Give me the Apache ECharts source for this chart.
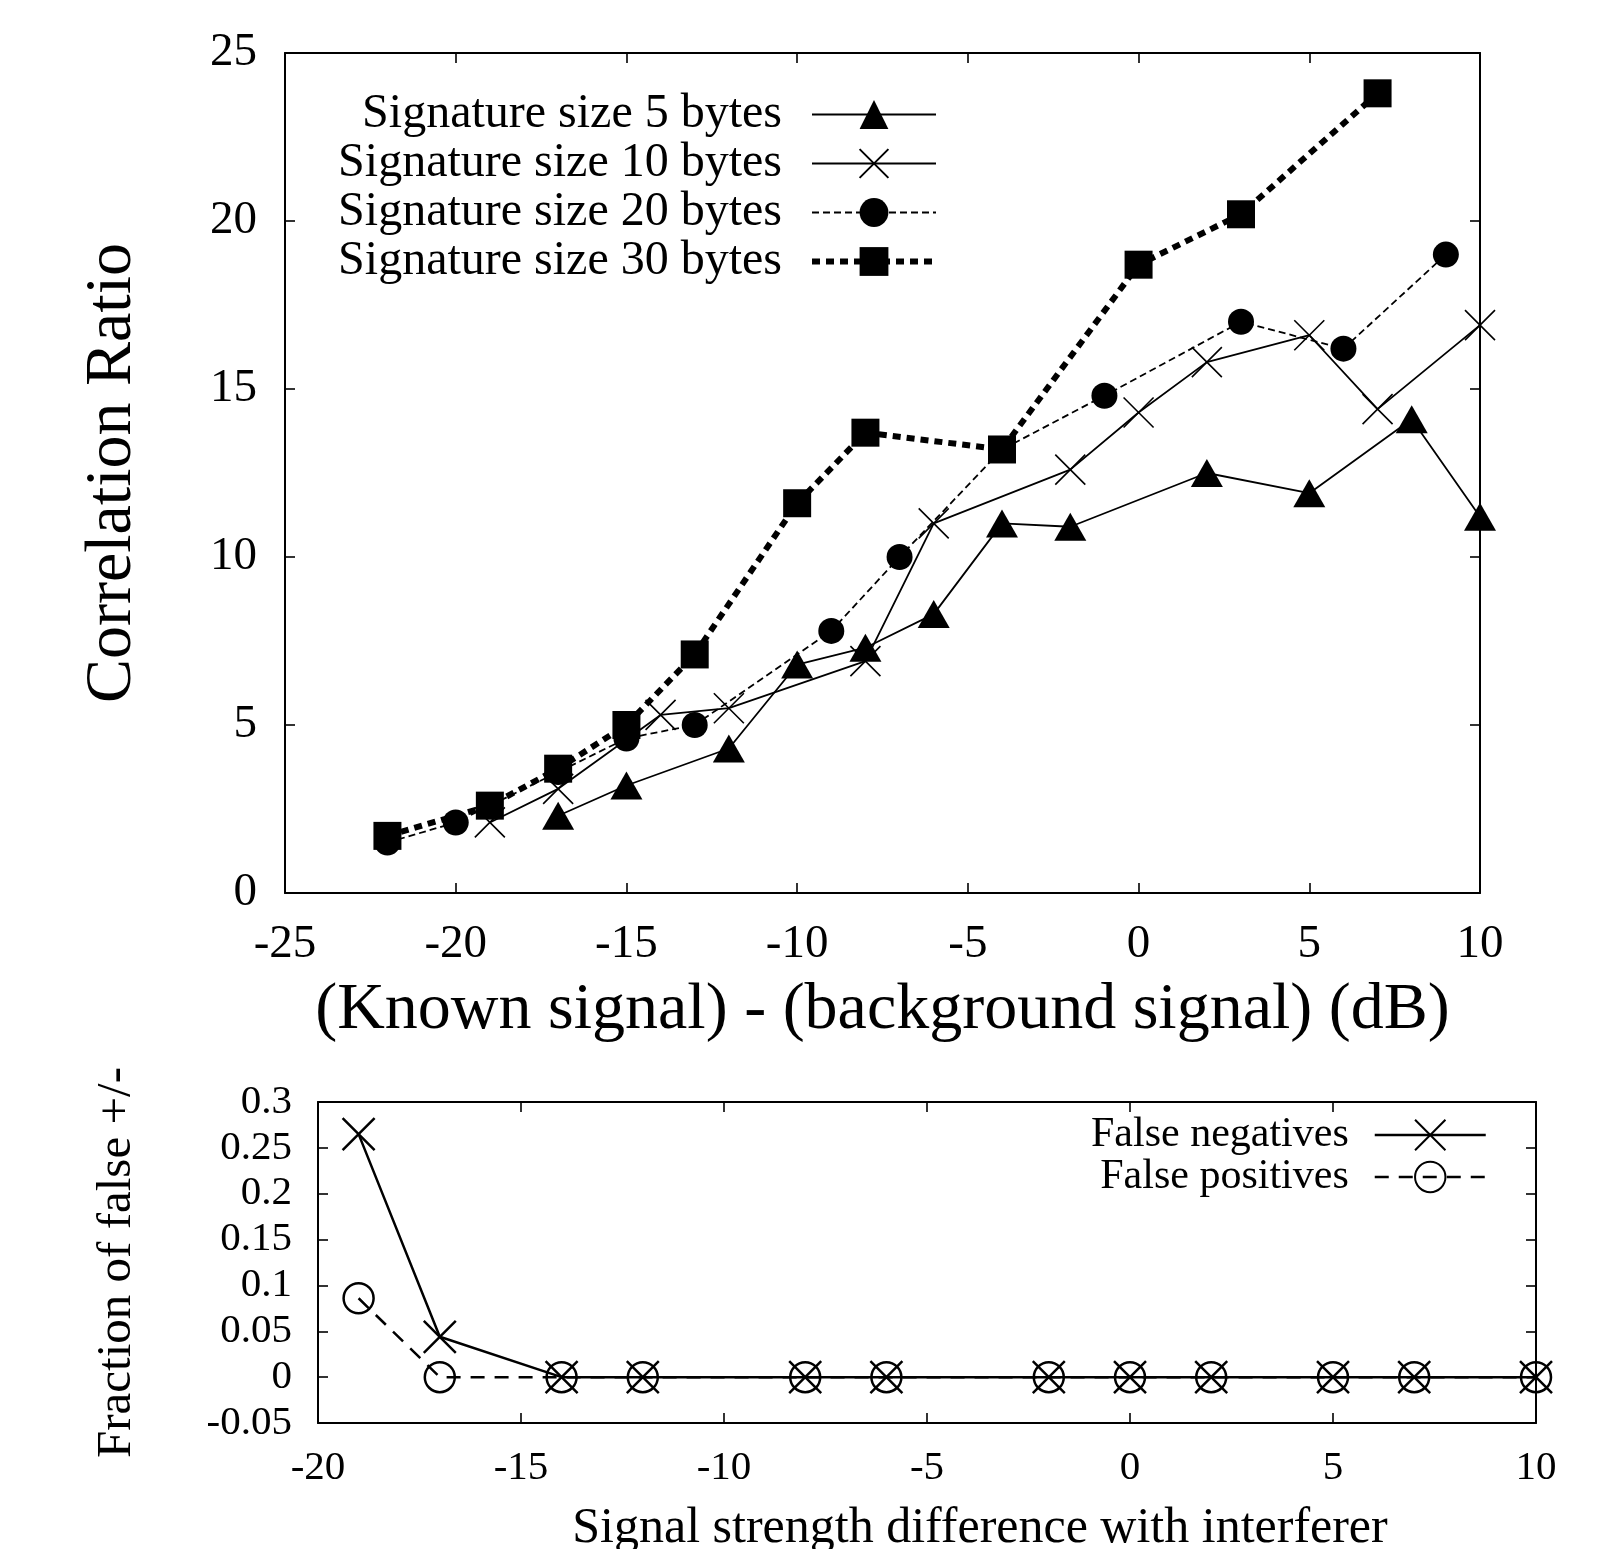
<!DOCTYPE html>
<html><head><meta charset="utf-8">
<script src="https://cdn.jsdelivr.net/npm/echarts@6/dist/echarts.min.js"></script>
<style>html,body{margin:0;padding:0;background:#fff}#c{width:1605px;height:1549px}</style>
</head><body><div id="c"></div>
<script>
// ---- Top chart data ----
const sig5X  = [-17, -15, -12, -10, -8, -6, -4, -2, 2, 5, 8, 10];
const sig5Y  = [2.3, 3.2, 4.3, 6.8, 7.3, 8.3, 11.0, 10.9, 12.5, 11.9, 14.1, 11.2];
const sig10X = [-19, -17, -14, -12, -8, -6, -2, 0, 2, 5, 7, 10];
const sig10Y = [2.1, 3.1, 5.3, 5.5, 6.9, 11.0, 12.6, 14.3, 15.8, 16.6, 14.4, 16.9];
const sig20X = [-22, -20, -17, -15, -13, -9, -7, -4, -1, 3, 6, 9];
const sig20Y = [1.5, 2.1, 3.6, 4.6, 5.0, 7.8, 10.0, 13.2, 14.8, 17.0, 16.2, 19.0];
const sig30X = [-22, -19, -17, -15, -13, -10, -8, -4, 0, 3, 7];
const sig30Y = [1.7, 2.6, 3.7, 5.0, 7.1, 11.6, 13.7, 13.2, 18.7, 20.2, 23.8];
const topNames = ['Signature size 5 bytes', 'Signature size 10 bytes', 'Signature size 20 bytes', 'Signature size 30 bytes'];
const topXRange = [-25, 10, 5];
const topYRange = [0, 25, 5];
const topXTitle = '(Known signal) - (background signal) (dB)';
const topYTitle = 'Correlation Ratio';

// ---- Bottom chart data ----
const fnX = [-19, -17, -14, -12, -8, -6, -2, 0, 2, 5, 7, 10];
const fnY = [0.265, 0.044, 0, 0, 0, 0, 0, 0, 0, 0, 0, 0];
const fpX = [-19, -17, -14, -12, -8, -6, -2, 0, 2, 5, 7, 10];
const fpY = [0.086, 0, 0, 0, 0, 0, 0, 0, 0, 0, 0, 0];
const botNames = ['False negatives', 'False positives'];
const botXRange = [-20, 10, 5];
const botYRange = [-0.05, 0.3, 0.05];
const botXTitle = 'Signal strength difference with interferer';
const botYTitle = 'Fraction of false +/-';

const FONT = '"Liberation Serif", "DejaVu Serif", serif';
const pairs = (xs, ys) => xs.map((x, i) => [x, ys[i]]);
const XMARK = 'path://M0,0L10,10M10,0L0,10';

function axisPair(kind, grid, range, labelOpts, nameOpts) {
  const base = {
    type: 'value', gridIndex: grid, min: range[0], max: range[1], interval: range[2],
    splitLine: { show: false },
    axisLine: { show: true, onZero: false, lineStyle: { color: '#000', width: 2 } },
    axisTick: { show: true, inside: true, length: 10, lineStyle: { color: '#000', width: 1.6 } }
  };
  const main = Object.assign({}, base, {
    position: kind === 'x' ? 'bottom' : 'left',
    axisLabel: Object.assign({ color: '#000', fontFamily: FONT }, labelOpts)
  }, nameOpts);
  const mirror = Object.assign({}, base, {
    position: kind === 'x' ? 'top' : 'right',
    axisLabel: { show: false }
  });
  return [main, mirror];
}

const topX = axisPair('x', 0, topXRange, { fontSize: 47, margin: 28 }, {
  name: topXTitle, nameLocation: 'middle', nameGap: 85,
  nameTextStyle: { fontSize: 66, fontFamily: FONT, color: '#000' }
});
const topY = axisPair('y', 0, topYRange, { fontSize: 47, margin: 28 }, {
  name: topYTitle, nameLocation: 'middle', nameGap: 139,
  nameTextStyle: { fontSize: 66, fontFamily: FONT, color: '#000' }
});
const botX = axisPair('x', 1, botXRange, { fontSize: 41, margin: 25 }, {
  name: botXTitle, nameLocation: 'middle', nameGap: 81,
  nameTextStyle: { fontSize: 50, fontFamily: FONT, color: '#000', padding: [0, 0, 0, 106] }
});
const botY = axisPair('y', 1, botYRange, {
  fontSize: 41, margin: 26,
  formatter: v => String(+v.toFixed(2))
}, {
  name: botYTitle, nameLocation: 'middle', nameGap: 176,
  nameTextStyle: { fontSize: 49, fontFamily: FONT, color: '#000' }
});

const thin = 1.8;
const topLine = [
  { color: '#000', width: thin },
  { color: '#000', width: thin },
  { color: '#000', width: thin, type: [7, 4] },
  { color: '#000', width: 6, type: [8, 6] }
];
const botLine = [
  { color: '#000', width: 2.5 },
  { color: '#000', width: 2.5, type: [14, 10] }
];

const option = {
  backgroundColor: '#fff',
  animation: false,
  grid: [
    { left: 285, top: 53, right: 125, bottom: 656, outerBoundsMode: 'none', containLabel: false },
    { left: 318, top: 1102, right: 69, bottom: 126, outerBoundsMode: 'none', containLabel: false }
  ],
  xAxis: [topX[0], topX[1], botX[0], botX[1]],
  yAxis: [topY[0], topY[1], botY[0], botY[1]],
  legend: [
    {
      data: topNames.map((n, i) => ({ name: n, lineStyle: topLine[i] })),
      orient: 'vertical', align: 'right', right: 661, top: 85,
      itemWidth: 124, itemHeight: 36, itemGap: 0,
      textStyle: { fontSize: 48, fontFamily: FONT, color: '#000', lineHeight: 49, padding: [0, 25, 0, 0] }
    },
    {
      data: botNames.map((n, i) => ({ name: n, lineStyle: botLine[i] })),
      orient: 'vertical', align: 'right', right: 113, top: 1109,
      itemWidth: 111, itemHeight: 38, itemGap: 0,
      textStyle: { fontSize: 42, fontFamily: FONT, color: '#000', lineHeight: 42, padding: [0, 21, 0, 0] }
    }
  ],
  series: [
    {
      name: topNames[0], type: 'line', xAxisIndex: 0, yAxisIndex: 0,
      data: pairs(sig5X, sig5Y), symbol: 'triangle', symbolSize: [32, 28],
      lineStyle: topLine[0],
      itemStyle: { color: '#000' }
    },
    {
      name: topNames[1], type: 'line', xAxisIndex: 0, yAxisIndex: 0,
      data: pairs(sig10X, sig10Y), symbol: XMARK, symbolSize: 30,
      lineStyle: topLine[1],
      itemStyle: { color: 'transparent', borderColor: '#000', borderWidth: 1.6 }
    },
    {
      name: topNames[2], type: 'line', xAxisIndex: 0, yAxisIndex: 0,
      data: pairs(sig20X, sig20Y), symbol: 'circle', symbolSize: 26,
      lineStyle: topLine[2],
      itemStyle: { color: '#000' }
    },
    {
      name: topNames[3], type: 'line', xAxisIndex: 0, yAxisIndex: 0,
      data: pairs(sig30X, sig30Y), symbol: 'rect', symbolSize: 28,
      lineStyle: topLine[3],
      itemStyle: { color: '#000' }
    },
    {
      name: botNames[0], type: 'line', xAxisIndex: 2, yAxisIndex: 2,
      data: pairs(fnX, fnY), symbol: XMARK, symbolSize: 32,
      lineStyle: botLine[0],
      itemStyle: { color: 'transparent', borderColor: '#000', borderWidth: 2.5 }
    },
    {
      name: botNames[1], type: 'line', xAxisIndex: 2, yAxisIndex: 2,
      data: pairs(fpX, fpY), symbol: 'circle', symbolSize: 30,
      lineStyle: botLine[1],
      itemStyle: { color: 'transparent', borderColor: '#000', borderWidth: 2.5 }
    }
  ]
};
const chart = echarts.init(document.getElementById('c'), null, { renderer: 'canvas' });
chart.setOption(option);
</script>
</body></html>
